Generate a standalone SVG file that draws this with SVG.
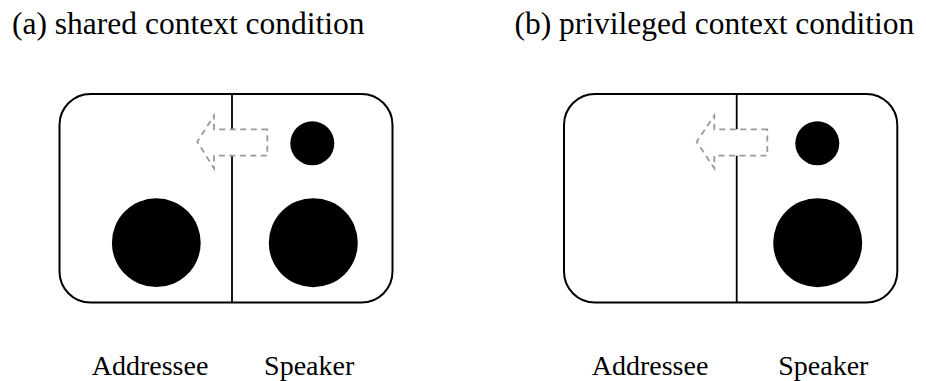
<svg xmlns="http://www.w3.org/2000/svg" width="926" height="381" viewBox="0 0 926 381">
  <style>
    .title { font-family: "Liberation Serif", "Times New Roman", serif; font-size: 31.5px; fill: #000; }
    .label { font-family: "Liberation Serif", "Times New Roman", serif; font-size: 28px; fill: #000; text-anchor: middle; }
    .panel { fill: #fff; stroke: #000; stroke-width: 2; }
    .divider { stroke: #000; stroke-width: 1.8; }
    .arrow { fill: #fff; stroke: #999; stroke-width: 1.8; stroke-dasharray: 6 4.5; }
    .dot { fill: #000; }
  </style>

  <!-- (a) shared context condition -->
  <g id="panel-a">
    <text class="title" x="12" y="34">(a) shared context condition</text>
    <rect class="panel" x="59.5" y="94" width="333" height="208.5" rx="31" ry="31"/>
    <line class="divider" x1="232" y1="94" x2="232" y2="302.5"/>
    <polygon class="arrow" points="267.3,129.3 214,129.3 214,115.5 197.3,141.8 214,168.3 214,155.7 267.3,155.7"/>
    <circle class="dot" cx="312.3" cy="143.3" r="22"/>
    <circle class="dot" cx="156.3" cy="242.7" r="44.4"/>
    <circle class="dot" cx="313.3" cy="242.7" r="44.5"/>
    <text class="label" x="150" y="375">Addressee</text>
    <text class="label" x="309.2" y="375">Speaker</text>
  </g>

  <!-- (b) privileged context condition -->
  <g id="panel-b">
    <text class="title" x="514.5" y="34">(b) privileged context condition</text>
    <rect class="panel" x="564" y="94" width="333.3" height="208.5" rx="31" ry="31"/>
    <line class="divider" x1="736.7" y1="94" x2="736.7" y2="302.5"/>
    <polygon class="arrow" points="767.3,129.3 714.3,129.3 714.3,115.5 696.7,141.8 714.3,168.3 714.3,155.7 767.3,155.7"/>
    <circle class="dot" cx="817.3" cy="143.3" r="22"/>
    <circle class="dot" cx="817.7" cy="242.7" r="44.5"/>
    <text class="label" x="650" y="375">Addressee</text>
    <text class="label" x="823.3" y="375">Speaker</text>
  </g>

  <g id="connectors"/>
</svg>
